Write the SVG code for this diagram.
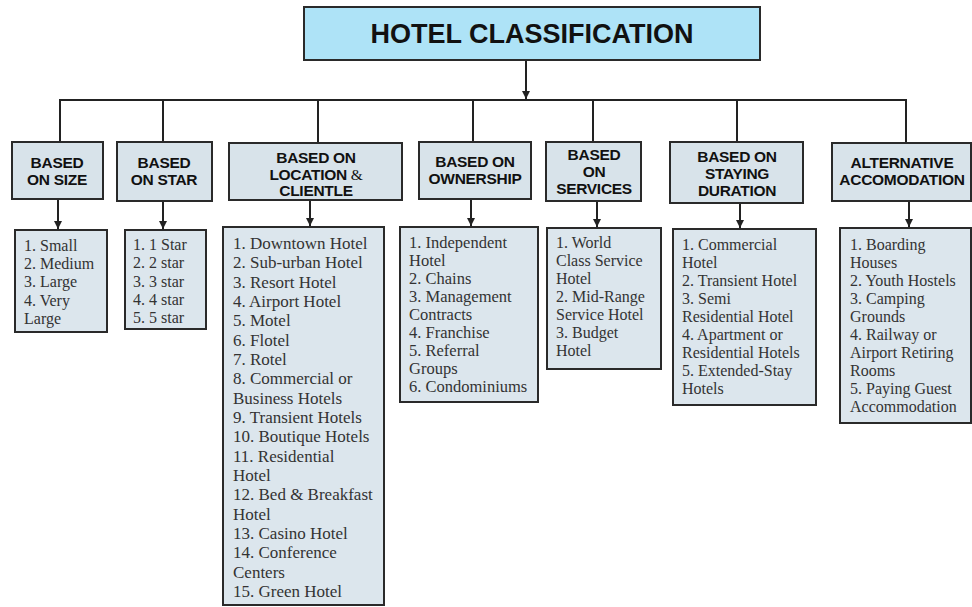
<svg xmlns="http://www.w3.org/2000/svg" width="972" height="607" viewBox="0 0 972 607">
<defs>
<marker id="ah" viewBox="0 0 10 10" refX="10" refY="5" markerWidth="8" markerHeight="8" markerUnits="userSpaceOnUse" orient="auto"><path d="M0,0 L10,5 L0,10 z" fill="#222"/></marker>
<style>
.box{fill:#d8e3ea;stroke:#2a2a2a;stroke-width:2}
.sub{fill:#dce6ed;stroke:#2a2a2a;stroke-width:2}
.ttl{fill:#aee3f7;stroke:#2a2a2a;stroke-width:2}
.hd{font-family:"Liberation Sans","DejaVu Sans",sans-serif;font-weight:900;font-size:15.5px;fill:#111;text-anchor:middle;letter-spacing:-0.3px}
.tt{font-family:"Liberation Sans","DejaVu Sans",sans-serif;font-weight:900;font-size:27px;fill:#111;text-anchor:middle}
.it{font-family:"Liberation Serif","DejaVu Serif",serif;font-size:16px;fill:#333}
.ow{font-family:"Liberation Serif","DejaVu Serif",serif;font-size:16.5px;fill:#333}
.lt{font-family:"Liberation Serif","DejaVu Serif",serif;font-size:17px;fill:#333}
.ln{fill:none;stroke:#222;stroke-width:2}
</style>
</defs>
<rect width="972" height="607" fill="#fff"/>
<g id="connectors">
<path class="ln" d="M526,60 V99" marker-end="url(#ah)"/>
<path class="ln" d="M60,142 V100 H906 V142"/>
<path class="ln" d="M163,100 V142"/>
<path class="ln" d="M318,100 V143"/>
<path class="ln" d="M473,100 V142"/>
<path class="ln" d="M593,100 V142"/>
<path class="ln" d="M737,100 V142"/>
<path class="ln" d="M58,199 V229" marker-end="url(#ah)"/>
<path class="ln" d="M163,201 V229" marker-end="url(#ah)"/>
<path class="ln" d="M310,200 V226" marker-end="url(#ah)"/>
<path class="ln" d="M471,199 V226" marker-end="url(#ah)"/>
<path class="ln" d="M597,201 V227" marker-end="url(#ah)"/>
<path class="ln" d="M740,203 V228" marker-end="url(#ah)"/>
<path class="ln" d="M909,201 V227" marker-end="url(#ah)"/>
</g>
<g id="title">
<rect class="ttl" x="304" y="7" width="456" height="53"/>
<text class="tt" x="532" y="43">HOTEL CLASSIFICATION</text>
</g>
<g id="size">
<rect class="box" x="12" y="142" width="91" height="57"/>
<text class="hd" x="57" y="168">BASED</text>
<text class="hd" x="57" y="185">ON SIZE</text>
</g>
<g id="size-list">
<rect class="sub" x="15" y="230" width="92" height="102"/>
<g class="it">
<text x="24" y="251">1. Small</text>
<text x="24" y="269">2. Medium</text>
<text x="24" y="287">3. Large</text>
<text x="24" y="306">4. Very</text>
<text x="24" y="324">Large</text>
</g>
</g>
<g id="star">
<rect class="box" x="117" y="142" width="95" height="59"/>
<text class="hd" x="164" y="168">BASED</text>
<text class="hd" x="164" y="185">ON STAR</text>
</g>
<g id="star-list">
<rect class="sub" x="125" y="230" width="81" height="99"/>
<g class="it">
<text x="133" y="250">1. 1 Star</text>
<text x="133" y="268">2. 2 star</text>
<text x="133" y="287">3. 3 star</text>
<text x="133" y="305">4. 4 star</text>
<text x="133" y="323">5. 5 star</text>
</g>
</g>
<g id="location">
<rect class="box" x="229" y="143" width="173" height="57"/>
<text class="hd" x="316" y="163">BASED ON</text>
<text class="hd" x="316" y="180">LOCATION <tspan style="font-family:'Liberation Serif',serif;font-weight:normal">&amp;</tspan></text>
<text class="hd" x="316" y="196">CLIENTLE</text>
</g>
<g id="location-list">
<rect class="sub" x="223" y="227" width="161" height="378"/>
<g class="lt">
<text x="233" y="249">1. Downtown Hotel</text>
<text x="233" y="268.3">2. Sub-urban Hotel</text>
<text x="233" y="287.7">3. Resort Hotel</text>
<text x="233" y="307">4. Airport Hotel</text>
<text x="233" y="326.3">5. Motel</text>
<text x="233" y="345.7">6. Flotel</text>
<text x="233" y="365">7. Rotel</text>
<text x="233" y="384.3">8. Commercial or</text>
<text x="233" y="403.7">Business Hotels</text>
<text x="233" y="423">9. Transient Hotels</text>
<text x="233" y="442.3">10. Boutique Hotels</text>
<text x="233" y="461.7">11. Residential</text>
<text x="233" y="481">Hotel</text>
<text x="233" y="500.3">12. Bed &amp; Breakfast</text>
<text x="233" y="519.7">Hotel</text>
<text x="233" y="539">13. Casino Hotel</text>
<text x="233" y="558.3">14. Conference</text>
<text x="233" y="577.7">Centers</text>
<text x="233" y="597">15. Green Hotel</text>
</g>
</g>
<g id="ownership">
<rect class="box" x="419" y="142" width="112" height="57"/>
<text class="hd" x="475" y="167">BASED ON</text>
<text class="hd" x="475" y="184">OWNERSHIP</text>
</g>
<g id="ownership-list">
<rect class="sub" x="400" y="227" width="138" height="175"/>
<g class="ow">
<text x="409" y="248">1. Independent</text>
<text x="409" y="266">Hotel</text>
<text x="409" y="284">2. Chains</text>
<text x="409" y="302">3. Management</text>
<text x="409" y="320">Contracts</text>
<text x="409" y="338">4. Franchise</text>
<text x="409" y="356">5. Referral</text>
<text x="409" y="374">Groups</text>
<text x="409" y="392">6. Condominiums</text>
</g>
</g>
<g id="services">
<rect class="box" x="546" y="142" width="95" height="59"/>
<text class="hd" x="594" y="160">BASED</text>
<text class="hd" x="594" y="177">ON</text>
<text class="hd" x="594" y="194">SERVICES</text>
</g>
<g id="services-list">
<rect class="sub" x="547" y="228" width="114" height="141"/>
<g class="it">
<text x="556" y="248">1. World</text>
<text x="556" y="266">Class Service</text>
<text x="556" y="284">Hotel</text>
<text x="556" y="302">2. Mid-Range</text>
<text x="556" y="320">Service Hotel</text>
<text x="556" y="338">3. Budget</text>
<text x="556" y="356">Hotel</text>
</g>
</g>
<g id="staying">
<rect class="box" x="670" y="142" width="133" height="61"/>
<text class="hd" x="737" y="162">BASED ON</text>
<text class="hd" x="737" y="179">STAYING</text>
<text class="hd" x="737" y="196">DURATION</text>
</g>
<g id="staying-list">
<rect class="sub" x="673" y="229" width="143" height="176"/>
<g class="it">
<text x="682" y="250">1. Commercial</text>
<text x="682" y="268">Hotel</text>
<text x="682" y="286">2. Transient Hotel</text>
<text x="682" y="304">3. Semi</text>
<text x="682" y="322">Residential Hotel</text>
<text x="682" y="340">4. Apartment or</text>
<text x="682" y="358">Residential Hotels</text>
<text x="682" y="376">5. Extended-Stay</text>
<text x="682" y="394">Hotels</text>
</g>
</g>
<g id="alternative">
<rect class="box" x="832" y="143" width="139" height="58"/>
<text class="hd" x="902" y="168">ALTERNATIVE</text>
<text class="hd" x="902" y="185">ACCOMODATION</text>
</g>
<g id="alternative-list">
<rect class="sub" x="840" y="228" width="131" height="195"/>
<g class="it">
<text x="850" y="250">1. Boarding</text>
<text x="850" y="268">Houses</text>
<text x="850" y="286">2. Youth Hostels</text>
<text x="850" y="304">3. Camping</text>
<text x="850" y="322">Grounds</text>
<text x="850" y="340">4. Railway or</text>
<text x="850" y="358">Airport Retiring</text>
<text x="850" y="376">Rooms</text>
<text x="850" y="394">5. Paying Guest</text>
<text x="850" y="412">Accommodation</text>
</g>
</g>
</svg>
